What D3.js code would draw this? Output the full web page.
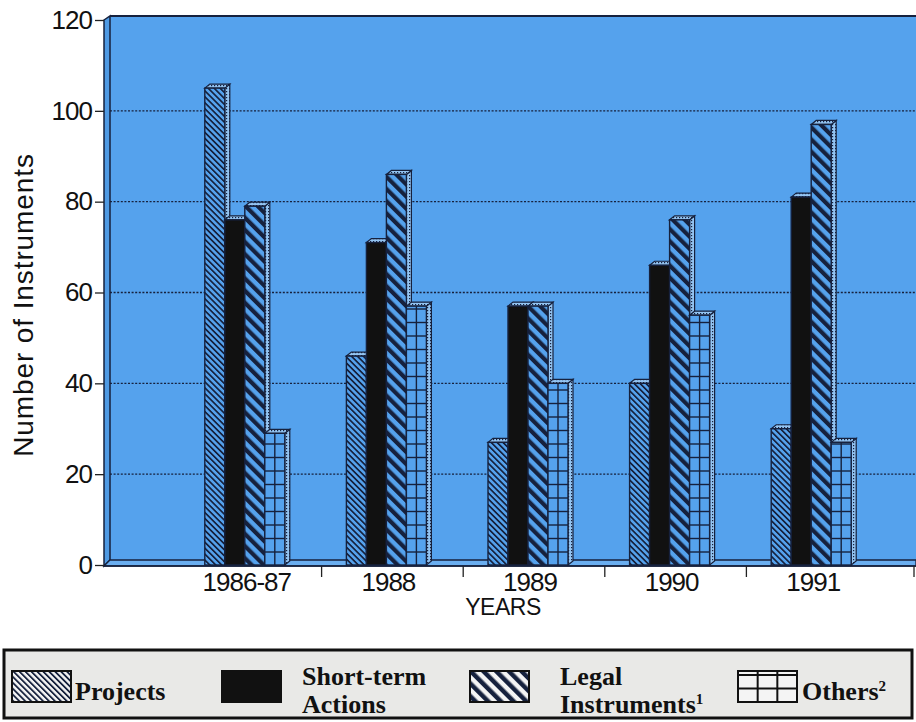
<!DOCTYPE html>
<html>
<head>
<meta charset="utf-8">
<script src="https://cdn.jsdelivr.net/npm/d3@7"></script>
<style>
  body { margin: 0; background: #fff; }
  svg { display: block; }
</style>
</head>
<body>
<div id="chart"></div>
<script>
// data
const years = ['1986-87', '1988', '1989', '1990', '1991'];
const projects = [105, 46, 27, 40, 30];
const shortTerm = [76, 71, 57, 66, 81];
const legal = [79, 86, 57, 76, 97];
const others = [29, 57, 40, 55, 27];
const yTicks = [0, 20, 40, 60, 80, 100, 120];
const seriesKeys = ['projects', 'shortTerm', 'legal', 'others'];

const W = 916, H = 722;
const navy = '#16213d';
const blue = '#55a2ed';
const dx = 5, dy = 4;          // 3d depth of bars
const wallX = 104, wallDx = 6, wallDy = 5;

const svg = d3.select('#chart').append('svg')
  .attr('width', W).attr('height', H);

const defs = svg.append('defs');

function stripes(id, bg, gap, lw) {
  const p = defs.append('pattern').attr('id', id)
    .attr('patternUnits', 'userSpaceOnUse')
    .attr('width', gap).attr('height', gap)
    .attr('patternTransform', 'rotate(-45)');
  p.append('rect').attr('width', gap).attr('height', gap).attr('fill', bg);
  p.append('rect').attr('width', lw).attr('height', gap).attr('fill', navy);
}
stripes('fineBlue', blue, 4.2, 1.7);
stripes('wideBlue', blue, 8.6, 4.2);
stripes('fineWhite', '#f4f4f4', 4.2, 1.8);
stripes('wideWhite', '#f4f4f4', 9, 4.5);

const dots = defs.append('pattern').attr('id', 'dots')
  .attr('patternUnits', 'userSpaceOnUse').attr('width', 3).attr('height', 3);
dots.append('rect').attr('width', 3).attr('height', 3).attr('fill', '#93c4f2');
dots.append('rect').attr('x', 1).attr('y', 1).attr('width', 1.2).attr('height', 1.2).attr('fill', navy);

const y = d3.scaleLinear().domain([0, 120]).range([565, 20]);

const x = d3.scaleBand().domain(years).range([176, 884]);
const inner = d3.scaleBand().domain(seriesKeys).range([0, 80]);

const values = {projects: projects, shortTerm: shortTerm, legal: legal, others: others};
const fills = {projects: 'url(#fineBlue)', shortTerm: '#111', legal: 'url(#wideBlue)', others: blue};

// back wall, left wall, floor
const yTop = y(120);
svg.append('rect')
  .attr('x', wallX + wallDx).attr('y', yTop - wallDy + 1)
  .attr('width', W - wallX - wallDx).attr('height', y(0) - yTop)
  .attr('fill', blue);
svg.append('path')
  .attr('d', `M${wallX},${yTop} L${wallX + wallDx},${yTop - wallDy + 1} L${wallX + wallDx},${y(0) - wallDy} L${wallX},${y(0) + 1} Z`)
  .attr('fill', '#4f9ae3').attr('stroke', navy).attr('stroke-width', 1.5);
svg.append('path')
  .attr('d', `M${wallX},${y(0) + 1} L${wallX + wallDx},${y(0) - wallDy} L${W},${y(0) - wallDy} L${W},${y(0) + 1} Z`)
  .attr('fill', '#6aaef0').attr('stroke', navy).attr('stroke-width', 1.3);
svg.append('line')
  .attr('x1', wallX + wallDx).attr('x2', W)
  .attr('y1', yTop - wallDy + 1).attr('y2', yTop - wallDy + 1)
  .attr('stroke', navy).attr('stroke-width', 2.2);

// dotted grid lines
svg.append('g').selectAll('line')
  .data(yTicks.filter(d => d > 0 && d < 120))
  .enter().append('line')
  .attr('x1', wallX + wallDx).attr('x2', W)
  .attr('y1', d => y(d)).attr('y2', d => y(d))
  .attr('stroke', navy).attr('stroke-width', 1.4)
  .attr('stroke-dasharray', '2,1.6');

// y axis
const yAxis = svg.append('g')
  .attr('transform', `translate(${wallX},0)`)
  .call(d3.axisLeft(y).tickValues(yTicks).tickSize(9).tickPadding(3));
yAxis.select('.domain').remove();
yAxis.selectAll('line').attr('stroke', '#222').attr('stroke-width', 1.3);
yAxis.selectAll('text')
  .attr('font-family', 'Liberation Sans, Arial, sans-serif')
  .attr('font-size', 26).attr('fill', '#111')
  .attr('letter-spacing', -1);

// bars
const bars = [];
years.forEach((yr, i) => {
  seriesKeys.forEach(k => {
    bars.push({year: yr, key: k, value: values[k][i]});
  });
});

const barG = svg.append('g');
bars.forEach(b => {
  const bx = x(b.year) + x.bandwidth() / 2 - 42 + inner(b.key);
  const bw = inner.bandwidth();
  const by = y(b.value), b0 = y(0);
  const g = barG.append('g');
  g.append('path')
    .attr('d', `M${bx + bw},${by} L${bx + bw + dx},${by - dy} L${bx + bw + dx},${b0 - dy} L${bx + bw},${b0} Z`)
    .attr('fill', 'url(#dots)').attr('stroke', navy).attr('stroke-width', 1.2);
  g.append('path')
    .attr('d', `M${bx},${by} L${bx + dx},${by - dy} L${bx + bw + dx},${by - dy} L${bx + bw},${by} Z`)
    .attr('fill', 'url(#dots)').attr('stroke', navy).attr('stroke-width', 1.2);
  g.append('rect')
    .attr('x', bx).attr('y', by).attr('width', bw).attr('height', b0 - by)
    .attr('fill', fills[b.key]).attr('stroke', navy).attr('stroke-width', 1.4);
  if (b.key === 'others') {
    g.append('line')
      .attr('x1', bx + bw / 2).attr('x2', bx + bw / 2)
      .attr('y1', by).attr('y2', b0)
      .attr('stroke', navy).attr('stroke-width', 1.4);
    g.selectAll('.h').data(d3.range(b0 - 13, by, -13.5))
      .enter().append('line')
      .attr('x1', bx).attr('x2', bx + bw)
      .attr('y1', d => d).attr('y2', d => d)
      .attr('stroke', navy).attr('stroke-width', 1.4);
  }
});

// front edge of floor
svg.append('line')
  .attr('x1', wallX).attr('x2', W).attr('y1', y(0) + 1).attr('y2', y(0) + 1)
  .attr('stroke', navy).attr('stroke-width', 1.6);

// x axis: labels at band centres, ticks between bands
const xAxis = svg.append('g')
  .attr('transform', `translate(0,${y(0) + 1})`)
  .call(d3.axisBottom(x).tickSize(0).tickPadding(7));
xAxis.select('.domain').remove();
xAxis.selectAll('text')
  .attr('font-family', 'Liberation Sans, Arial, sans-serif')
  .attr('font-size', 26).attr('fill', '#111')
  .attr('letter-spacing', -1);

svg.append('g').selectAll('line')
  .data(years.slice(1))
  .enter().append('line')
  .attr('x1', d => x(d) + 4).attr('x2', d => x(d) + 4)
  .attr('y1', y(0) + 1).attr('y2', y(0) + 12)
  .attr('stroke', '#222').attr('stroke-width', 1.3);
svg.append('line')
  .attr('x1', 914).attr('x2', 914).attr('y1', y(0) + 1).attr('y2', y(0) + 12)
  .attr('stroke', '#222').attr('stroke-width', 1.3);

// axis titles
svg.append('text')
  .attr('transform', `translate(33,${(148 + 462) / 2}) rotate(-90)`)
  .attr('text-anchor', 'middle')
  .attr('font-family', 'Liberation Sans, Arial, sans-serif')
  .attr('font-size', 28).attr('fill', '#111')
  .attr('letter-spacing', 0.9)
  .text('Number of Instruments');

svg.append('text')
  .attr('x', 503).attr('y', 615)
  .attr('text-anchor', 'middle')
  .attr('font-family', 'Liberation Sans, Arial, sans-serif')
  .attr('font-size', 23).attr('fill', '#111')
  .attr('letter-spacing', -0.5)
  .text('YEARS');

// legend
const leg = svg.append('g');
leg.append('rect')
  .attr('x', 4).attr('y', 650).attr('width', 908).attr('height', 68)
  .attr('fill', '#e9e9e7').attr('stroke', '#111').attr('stroke-width', 3);

const legendItems = [
  {key: 'projects', sx: 12, lines: ['Projects'], tx: 75, sup: null},
  {key: 'shortTerm', sx: 222, lines: ['Short-term', 'Actions'], tx: 302, sup: null},
  {key: 'legal', sx: 470, lines: ['Legal', 'Instruments'], tx: 560, sup: '1'},
  {key: 'others', sx: 738, lines: ['Others'], tx: 802, sup: '2'}
];
const legFill = {projects: 'url(#fineWhite)', shortTerm: '#111', legal: 'url(#wideWhite)', others: '#f4f4f4'};

legendItems.forEach(it => {
  const sw = 59, sh = 31, sy = 671;
  leg.append('rect')
    .attr('x', it.sx).attr('y', sy).attr('width', sw).attr('height', sh)
    .attr('fill', legFill[it.key]).attr('stroke', '#111').attr('stroke-width', 2);
  if (it.key === 'others') {
    [1, 2].forEach(j => leg.append('line')
      .attr('x1', it.sx + sw * j / 3).attr('x2', it.sx + sw * j / 3)
      .attr('y1', sy).attr('y2', sy + sh)
      .attr('stroke', '#111').attr('stroke-width', 2));
    [4, sh / 2 + 2].forEach(v => leg.append('line')
      .attr('x1', it.sx).attr('x2', it.sx + sw)
      .attr('y1', sy + v).attr('y2', sy + v)
      .attr('stroke', '#111').attr('stroke-width', 2));
  }
  const baseY = it.lines.length === 1 ? [700] : [685, 713];
  it.lines.forEach((ln, j) => {
    const t = leg.append('text')
      .attr('x', it.tx).attr('y', baseY[j])
      .attr('font-family', 'Liberation Serif, Times New Roman, serif')
      .attr('font-weight', 'bold')
      .attr('font-size', 26).attr('fill', '#111')
      .text(ln);
    if (it.sup && j === it.lines.length - 1) {
      t.append('tspan').attr('dy', -9).attr('font-size', 15).text(it.sup);
    }
  });
});
</script>
</body>
</html>
